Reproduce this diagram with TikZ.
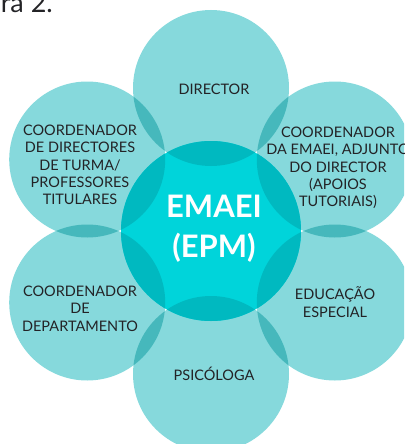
\documentclass[tikz,border=0pt]{standalone}
\usepackage{fontspec}
\setmainfont{Lato}
\definecolor{petal}{RGB}{134,217,220}
\definecolor{lensA}{RGB}{70,184,188}
\definecolor{core}{RGB}{0,212,218}
\definecolor{lensB}{RGB}{0,185,192}
\definecolor{ink}{RGB}{35,35,38}
\begin{document}
\begin{tikzpicture}[x=1pt,y=-1pt,
  lbl/.style={text=ink, font=\fontsize{14.5}{17.4}\selectfont, align=center, inner sep=0pt},
  mid/.style={text=white, font=\fontsize{31}{40}\selectfont\bfseries, align=center, inner sep=0pt}]
\useasboundingbox (0,0) rectangle (404,444);
\clip (0,0) rectangle (404,444);
\def\R{78pt}
\def\C{90pt}
\coordinate (O) at (211,231);
\coordinate (P1) at (211,88);
\coordinate (P2) at (334.8,159.5);
\coordinate (P3) at (334.8,302.5);
\coordinate (P4) at (211,374);
\coordinate (P5) at (87.2,302.5);
\coordinate (P6) at (87.2,159.5);
% petals
\foreach \p in {P1,P2,P3,P4,P5,P6}
  \fill[petal] (\p) circle[radius=\R];
% overlaps between neighbouring petals
\foreach \a/\b in {P1/P2,P2/P3,P3/P4,P4/P5,P5/P6,P6/P1}{
  \begin{scope}
    \clip (\a) circle[radius=\R];
    \fill[lensA] (\b) circle[radius=\R];
  \end{scope}
}
% core
\fill[core] (O) circle[radius=\C];
\foreach \p in {P1,P2,P3,P4,P5,P6}{
  \begin{scope}
    \clip (O) circle[radius=\C];
    \fill[lensB] (\p) circle[radius=\R];
  \end{scope}
}
% caption fragment
\node[anchor=base east, inner sep=0pt, text=ink, font=\fontsize{27}{30}\selectfont] (cap) at (53,12.5) {Figura 2.};
% labels
\node[mid] (emaei) at (214,229) {EMAEI\\(EPM)};
\node[lbl] (dir) at (214,89) {DIRECTOR};
\node[lbl] (cdt) at (80,165) {COORDENADOR\\DE DIRECTORES\\DE TURMA/\\PROFESSORES\\TITULARES};
\node[lbl] (cea) at (338,168) {COORDENADOR\\DA EMAEI, ADJUNTO\\DO DIRECTOR\\(APOIOS\\TUTORIAIS)};
\node[lbl] (cdp) at (80,308.5) {COORDENADOR\\DE\\DEPARTAMENTO};
\node[lbl] (ee) at (335,302) {EDUCAÇÃO\\ESPECIAL};
\node[lbl] (psi) at (214,374) {PSICÓLOGA};
\end{tikzpicture}
\end{document}
